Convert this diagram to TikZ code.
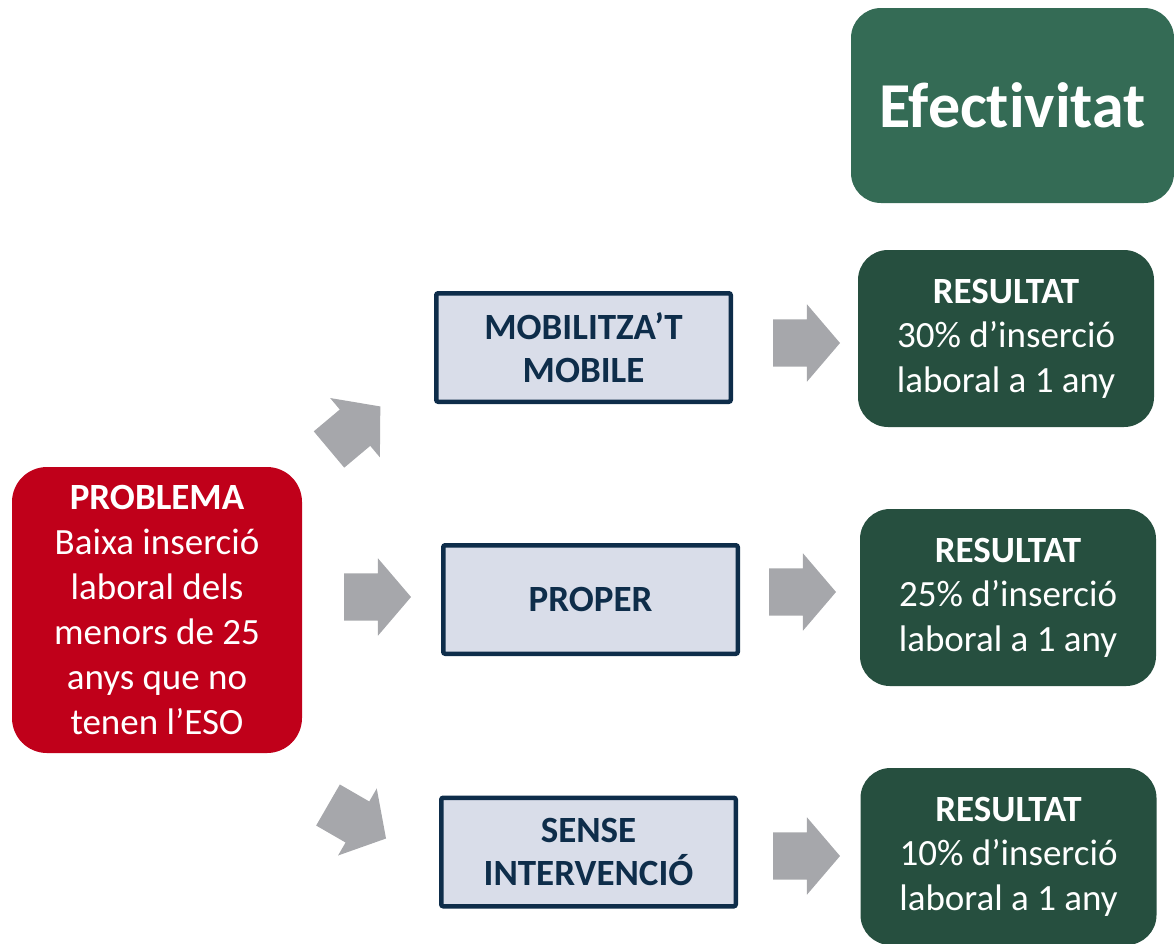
\documentclass[tikz,border=0pt]{standalone}
\usepackage{fontspec}
\setmainfont{Carlito}[Ligatures=NoCommon]
\usetikzlibrary{shapes.arrows}
\definecolor{effgreen}{HTML}{346B55}
\definecolor{resgreen}{HTML}{264F3F}
\definecolor{probred}{HTML}{C0001A}
\definecolor{progfill}{HTML}{D9DDE9}
\definecolor{prognavy}{HTML}{0E2D4A}
\definecolor{arrgray}{HTML}{A6A7AB}
\begin{document}
\begin{tikzpicture}[x=1pt,y=-1pt,
    resbox/.style={fill=resgreen, rounded corners=30pt, minimum width=296pt, minimum height=177pt,
        text=white, align=center, font=\fontsize{37}{44.5}\selectfont},
    progbox/.style={fill=progfill, draw=prognavy, line width=4.5pt, rounded corners=2pt,
        minimum width=294.5pt, minimum height=108.5pt, text=prognavy, align=center,
        font=\bfseries\fontsize{37}{43}\selectfont},
    grayarrow/.style={single arrow, fill=arrgray, anchor=tail, inner xsep=0pt, inner ysep=23.5pt,
        outer sep=0pt, single arrow head extend=15pt, single arrow tip angle=99, minimum height=67pt}]
    \useasboundingbox (0,0) rectangle (1174,943);
    \clip (0,0) rectangle (1174,943);
    % header
    \node[fill=effgreen, rounded corners=30pt, minimum width=323pt, minimum height=195pt,
        text=white, font=\bfseries\fontsize{64}{77}\selectfont] (eff) at (1012.5,105.5) {Efectivitat};
    % problem
    \node[fill=probred, rounded corners=35pt, minimum width=290pt, minimum height=286pt,
        text=white, align=center, font=\fontsize{37}{45}\selectfont] (prob) at (157,610)
        {{\bfseries PROBLEMA}\\Baixa inserció\\laboral dels\\menors de 25\\anys que no\\tenen l’ESO};
    % programmes
    \node[progbox] (mob) at (583.5,347.5) {MOBILITZA’T\\MOBILE};
    \node[progbox] (prop) at (590.5,599.5) {PROPER};
    \node[progbox] (sense) at (588.5,852) {SENSE\\INTERVENCIÓ};
    % results
    \node[resbox] (res1) at (1006,338.5) {\textbf{RESULTAT}\\30\% d’inserció\\laboral a 1 any};
    \node[resbox] (res2) at (1008,597.5) {\textbf{RESULTAT}\\25\% d’inserció\\laboral a 1 any};
    \node[resbox] (res3) at (1008.5,856.5) {\textbf{RESULTAT}\\10\% d’inserció\\laboral a 1 any};
    % block arrows
    \node[grayarrow, rotate=40] (arrmob) at (329,449.5) {};
    \node[grayarrow] (arrprop) at (344,597) {};
    \node[grayarrow, rotate=-30] (arrsense) at (328,805) {};
    \node[grayarrow] (arrres1) at (773,343) {};
    \node[grayarrow] (arrres2) at (769,592) {};
    \node[grayarrow] (arrres3) at (773,856) {};
\end{tikzpicture}
\end{document}
